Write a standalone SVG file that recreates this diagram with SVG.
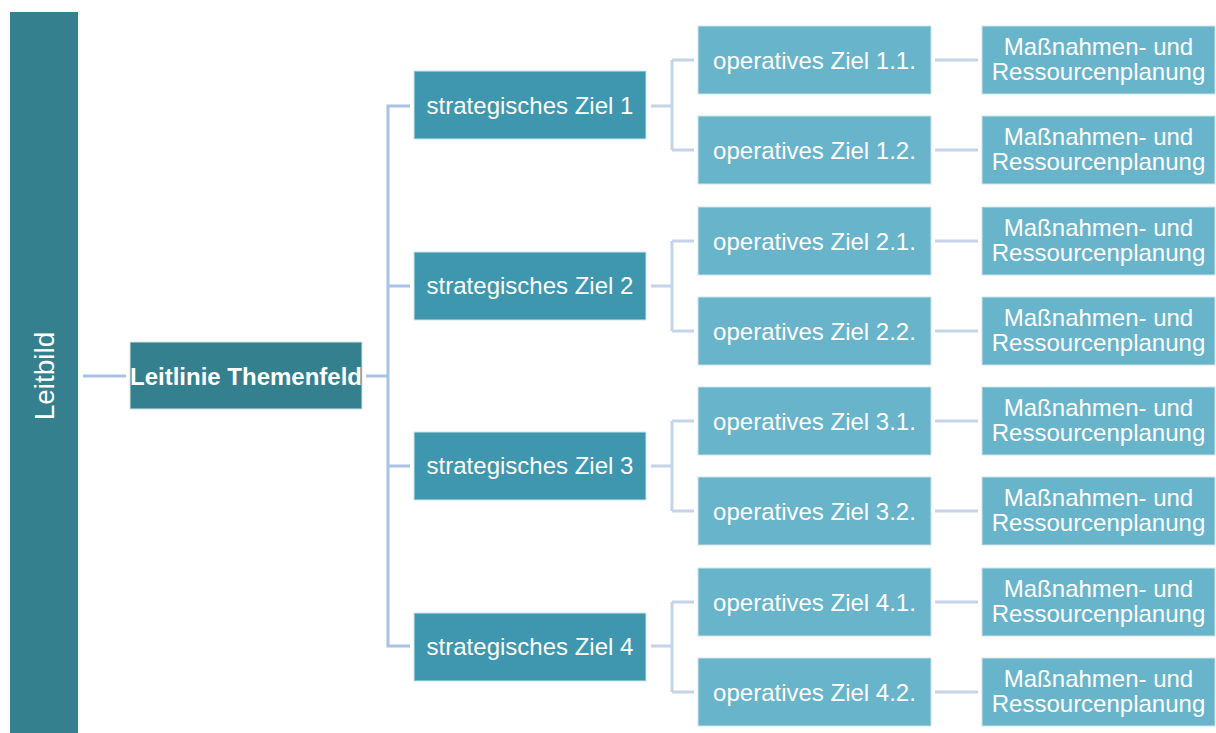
<svg xmlns="http://www.w3.org/2000/svg" width="1216" height="733" viewBox="0 0 1216 733">
<style>
text{font-family:"Liberation Sans",Arial,sans-serif;fill:#ffffff;text-anchor:middle;font-size:24px}
.lb{fill:#35808F}
.st{fill:#3E97AE}
.op{fill:#68B4CB}
.box{stroke:#cfe3ea;stroke-width:1}
.c1{stroke:#A8C2E5;stroke-width:3;fill:none}
.c2{stroke:#C6D4EA;stroke-width:3;fill:none}
</style>
<rect width="1216" height="733" fill="#ffffff"/>
<g id="connectors">
<path class="c1" d="M83 376H126M366 376H388M388 104.5V647.5M388 106H410M388 286H410M388 466H410M388 646H410"/>
<path class="c2" d="M651 106H672M672 60V150M672 60H694M672 150H694"/>
<path class="c2" d="M651 286H672M672 241V331M672 241H694M672 331H694"/>
<path class="c2" d="M651 466H672M672 421V511M672 421H694M672 511H694"/>
<path class="c2" d="M651 646H672M672 602V692M672 602H694M672 692H694"/>
<path class="c2" d="M935 60H978M935 150H978M935 241H978M935 331H978M935 421H978M935 511H978M935 602H978M935 692H978"/>
</g>
<g id="leitbild"><rect class="lb" x="10" y="12" width="68" height="722"/><text transform="translate(54,376) rotate(-90)" style="font-size:28px">Leitbild</text></g>
<g id="leitlinie"><rect class="lb box" x="130" y="342" width="232" height="67"/><text x="246" y="385" style="font-weight:bold">Leitlinie Themenfeld</text></g>
<g id="s1"><rect class="st box" x="414" y="71" width="232" height="68"/><text x="530" y="113.5">strategisches Ziel 1</text></g>
<g id="s2"><rect class="st box" x="414" y="252" width="232" height="68"/><text x="530" y="294">strategisches Ziel 2</text></g>
<g id="s3"><rect class="st box" x="414" y="432" width="232" height="68"/><text x="530" y="474">strategisches Ziel 3</text></g>
<g id="s4"><rect class="st box" x="414" y="613" width="232" height="68"/><text x="530" y="655">strategisches Ziel 4</text></g>
<g id="o11"><rect class="op box" x="698" y="26" width="233" height="68"/><text x="814.5" y="68.5">operatives Ziel 1.1.</text></g>
<g id="o12"><rect class="op box" x="698" y="116" width="233" height="68"/><text x="814.5" y="158.5">operatives Ziel 1.2.</text></g>
<g id="o21"><rect class="op box" x="698" y="207" width="233" height="68"/><text x="814.5" y="249.5">operatives Ziel 2.1.</text></g>
<g id="o22"><rect class="op box" x="698" y="297" width="233" height="68"/><text x="814.5" y="339.5">operatives Ziel 2.2.</text></g>
<g id="o31"><rect class="op box" x="698" y="387" width="233" height="68"/><text x="814.5" y="429.5">operatives Ziel 3.1.</text></g>
<g id="o32"><rect class="op box" x="698" y="477" width="233" height="68"/><text x="814.5" y="519.5">operatives Ziel 3.2.</text></g>
<g id="o41"><rect class="op box" x="698" y="568" width="233" height="68"/><text x="814.5" y="610.5">operatives Ziel 4.1.</text></g>
<g id="o42"><rect class="op box" x="698" y="658" width="233" height="68"/><text x="814.5" y="700.5">operatives Ziel 4.2.</text></g>
<g id="m11"><rect class="op box" x="982" y="26" width="233" height="68"/><text x="1098.5" y="55">Maßnahmen- und</text><text x="1098.5" y="80">Ressourcenplanung</text></g>
<g id="m12"><rect class="op box" x="982" y="116" width="233" height="68"/><text x="1098.5" y="145">Maßnahmen- und</text><text x="1098.5" y="170">Ressourcenplanung</text></g>
<g id="m21"><rect class="op box" x="982" y="207" width="233" height="68"/><text x="1098.5" y="236">Maßnahmen- und</text><text x="1098.5" y="261">Ressourcenplanung</text></g>
<g id="m22"><rect class="op box" x="982" y="297" width="233" height="68"/><text x="1098.5" y="326">Maßnahmen- und</text><text x="1098.5" y="351">Ressourcenplanung</text></g>
<g id="m31"><rect class="op box" x="982" y="387" width="233" height="68"/><text x="1098.5" y="416">Maßnahmen- und</text><text x="1098.5" y="441">Ressourcenplanung</text></g>
<g id="m32"><rect class="op box" x="982" y="477" width="233" height="68"/><text x="1098.5" y="506">Maßnahmen- und</text><text x="1098.5" y="531">Ressourcenplanung</text></g>
<g id="m41"><rect class="op box" x="982" y="568" width="233" height="68"/><text x="1098.5" y="597">Maßnahmen- und</text><text x="1098.5" y="622">Ressourcenplanung</text></g>
<g id="m42"><rect class="op box" x="982" y="658" width="233" height="68"/><text x="1098.5" y="687">Maßnahmen- und</text><text x="1098.5" y="712">Ressourcenplanung</text></g>
</svg>
